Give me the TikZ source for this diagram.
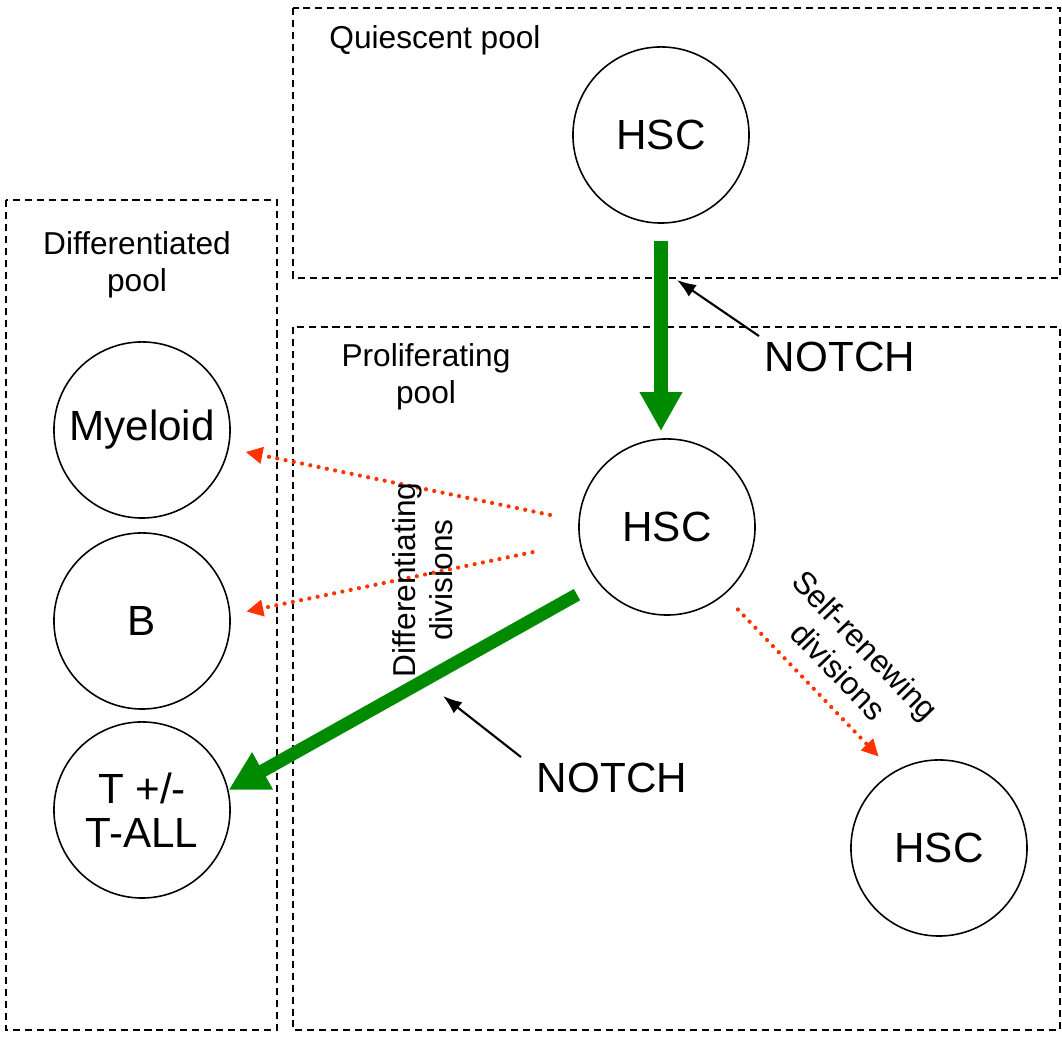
\documentclass[tikz,border=0pt]{standalone}
\usepackage{fontspec}
\setmainfont{Liberation Sans}
\usetikzlibrary{arrows.meta}
\definecolor{divgreen}{RGB}{0,138,0}
\definecolor{divred}{RGB}{255,51,0}

\begin{document}
\begin{tikzpicture}[x=0.01cm, y=-0.01cm,
			pool/.style={draw, line width=0.5pt, dash pattern=on 2pt off 1.4pt},
			cell/.style={draw, circle, line width=0.45pt, minimum size=1.76cm, inner sep=0pt, align=center, font=\fontsize{12}{12.6}\selectfont},
			lbl/.style={align=center, font=\fontsize{9}{10.6}\selectfont},
			notch/.style={inner sep=1.5pt, font=\fontsize{12}{14}\selectfont},
			bigarrow/.style={draw=divgreen, line width=3.7pt, -{Triangle[length=0.39cm, width=0.40cm]}},
			divarrow/.style={draw=divred, line width=1.2pt, line cap=round, dash pattern=on 0pt off 2.4pt, -{Triangle[length=0.17cm, width=0.16cm]}},
			notcharrow/.style={draw=black, line width=0.6pt, -{Latex[length=0.19cm, width=0.14cm]}}]
			\useasboundingbox (0,0) rectangle (1062,1037);
			% pools
			\draw[pool] (293,8) rectangle (1060,278);
			\draw[pool] (6,200) rectangle (277,1030);
			\draw[pool] (293,327) rectangle (1060,1030);
			\node[lbl] (qlabel) at (435,40) {Quiescent pool};
			\node[lbl] (dlabel) at (137,265) {Differentiated\\pool};
			\node[lbl] (plabel) at (426,377) {Proliferating\\pool};
			% cells
			\node[cell] (hscq) at (661,135) {HSC};
			\node[cell] (hscp) at (667,527) {HSC};
			\node[cell] (hscs) at (939,848) {HSC};
			\node[cell] (myeloid) at (142,430) {Myeloid};
			\node[cell] (bcell) at (142,621) {B};
			\node[cell] (tcell) at (142,810) {T +/-\\T-ALL};
			\draw[bigarrow, shorten <=0.17cm, shorten >=0.07cm] (hscq.south) -- (hscq.south |- hscp.north);
			\draw[bigarrow, shorten <=0.24cm] (hscp.219) -- (tcell.13);
			\draw[divarrow, shorten <=0.29cm, shorten >=0.17cm] (hscp.176) -- (myeloid.-12);
			\draw[divarrow, shorten <=0.48cm, shorten >=0.16cm] (hscp.190) -- (bcell.4);
			\draw[divarrow, shorten <=0.20cm, shorten >=0.21cm] (hscp.-50) -- (hscs.121);
			\node[lbl, rotate=90] (difflabel) at (423,580) {Differentiating\\divisions};
			\node[lbl, rotate=-46] (selflabel) at (852,658) {Self-renewing\\divisions};
			% NOTCH
			\node[notch] (notchq) at (840,357) {NOTCH};
			\node[notch] (notchp) at (612,778) {NOTCH};
			\coordinate (qtarget) at (677,280);
			\coordinate (ptarget) at (443,696);
			\draw[notcharrow] (notchq.north west) -- (qtarget);
			\draw[notcharrow] ([xshift=-0.1cm]notchp.north west) -- (ptarget);
		\end{tikzpicture}
\end{document}
